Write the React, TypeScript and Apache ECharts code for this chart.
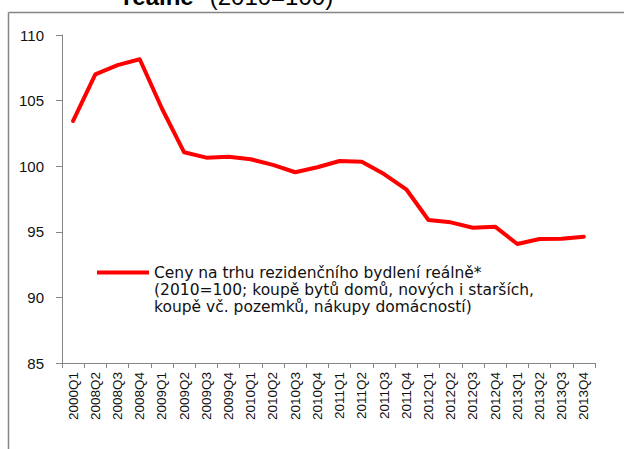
import React, { useEffect, useRef } from "react";
import * as echarts from "echarts";

const categories = [
  "2000Q1", "2008Q2", "2008Q3", "2008Q4",
  "2009Q1", "2009Q2", "2009Q3", "2009Q4",
  "2010Q1", "2010Q2", "2010Q3", "2010Q4",
  "2011Q1", "2011Q2", "2011Q3", "2011Q4",
  "2012Q1", "2012Q2", "2012Q3", "2012Q4",
  "2013Q1", "2013Q2", "2013Q3", "2013Q4",
];

const priceValues = [
  103.45, 107.0, 107.7, 108.15,
  104.4, 101.06, 100.65, 100.72,
  100.53, 100.1, 99.54, 99.92,
  100.4, 100.34, 99.4, 98.24,
  95.9, 95.72, 95.31, 95.39,
  94.07, 94.45, 94.47, 94.63,
];

const seriesName = "Ceny na trhu rezidenčního bydlení reálně*";
const legendLines = [
  "Ceny na trhu rezidenčního bydlení reálně*",
  "(2010=100; koupě bytů domů, nových i starších,",
  "koupě vč. pozemků, nákupy domácností)",
];

const yMin = 85;
const yMax = 110;
const yInterval = 5;

const FONT = "'Liberation Sans', Arial, sans-serif";
const WIDE_FONT = "'DejaVu Sans', 'Liberation Sans', sans-serif";

export default function App() {
  const ref = useRef<HTMLDivElement>(null);
  useEffect(() => {
    if (!ref.current) return;
    const chart = echarts.init(ref.current, null, { renderer: "svg" });
    chart.setOption({
      animation: false,
      backgroundColor: "#ffffff",
      grid: { left: 62, top: 35, right: 29, bottom: 86, containLabel: false },
      xAxis: {
        type: "category",
        data: categories,
        boundaryGap: true,
        axisLine: { lineStyle: { color: "#868686", width: 1 } },
        axisTick: { show: true, alignWithLabel: false, length: 5, lineStyle: { color: "#868686" } },
        axisLabel: {
          rotate: 90,
          interval: 0,
          margin: 9,
          color: "#111111",
          fontSize: 13.5,
          fontFamily: FONT,
        },
        splitLine: { show: false },
      },
      yAxis: {
        type: "value",
        min: yMin,
        max: yMax,
        interval: yInterval,
        axisLine: { show: true, lineStyle: { color: "#868686", width: 1 } },
        axisTick: { show: true, length: 6, lineStyle: { color: "#868686" } },
        axisLabel: {
          margin: 18,
          color: "#111111",
          fontSize: 15,
          fontFamily: FONT,
        },
        splitLine: { show: false },
      },
      series: [
        {
          name: seriesName,
          type: "line",
          data: priceValues,
          symbol: "none",
          lineStyle: { color: "#ff0000", width: 4, join: "round", cap: "round" },
          itemStyle: { color: "#ff0000" },
        },
      ],
      graphic: [
        {
          type: "line",
          shape: { x1: 8.5, y1: 12.5, x2: 624, y2: 12.5 },
          style: { stroke: "#858585", lineWidth: 1.5 },
          silent: true,
        },
        {
          type: "line",
          shape: { x1: 8.5, y1: 12.5, x2: 8.5, y2: 449 },
          style: { stroke: "#858585", lineWidth: 1.5 },
          silent: true,
        },
        {
          type: "text",
          x: 123,
          y: -4,
          style: {
            text: "{b|reálně*} (2010=100)",
            fontSize: 24,
            fontFamily: FONT,
            fill: "#000000",
            verticalAlign: "middle",
            rich: {
              b: { fontSize: 24, fontWeight: "bold", fontFamily: FONT, fill: "#000000" },
            },
          },
          silent: true,
        },
        {
          type: "line",
          shape: { x1: 97, y1: 272.5, x2: 149, y2: 272.5 },
          style: { stroke: "#ff0000", lineWidth: 4 },
          silent: true,
        },
        {
          type: "text",
          x: 154,
          y: 264,
          style: {
            text: legendLines.join("\n"),
            fontSize: 15.5,
            lineHeight: 17,
            fontFamily: WIDE_FONT,
            fill: "#111111",
            verticalAlign: "top",
          },
          silent: true,
        },
      ],
    });
    return () => chart.dispose();
  }, []);
  return (
    <div
      ref={ref}
      style={{ position: "absolute", left: 0, top: 0, width: 624, height: 449 }}
    />
  );
}
